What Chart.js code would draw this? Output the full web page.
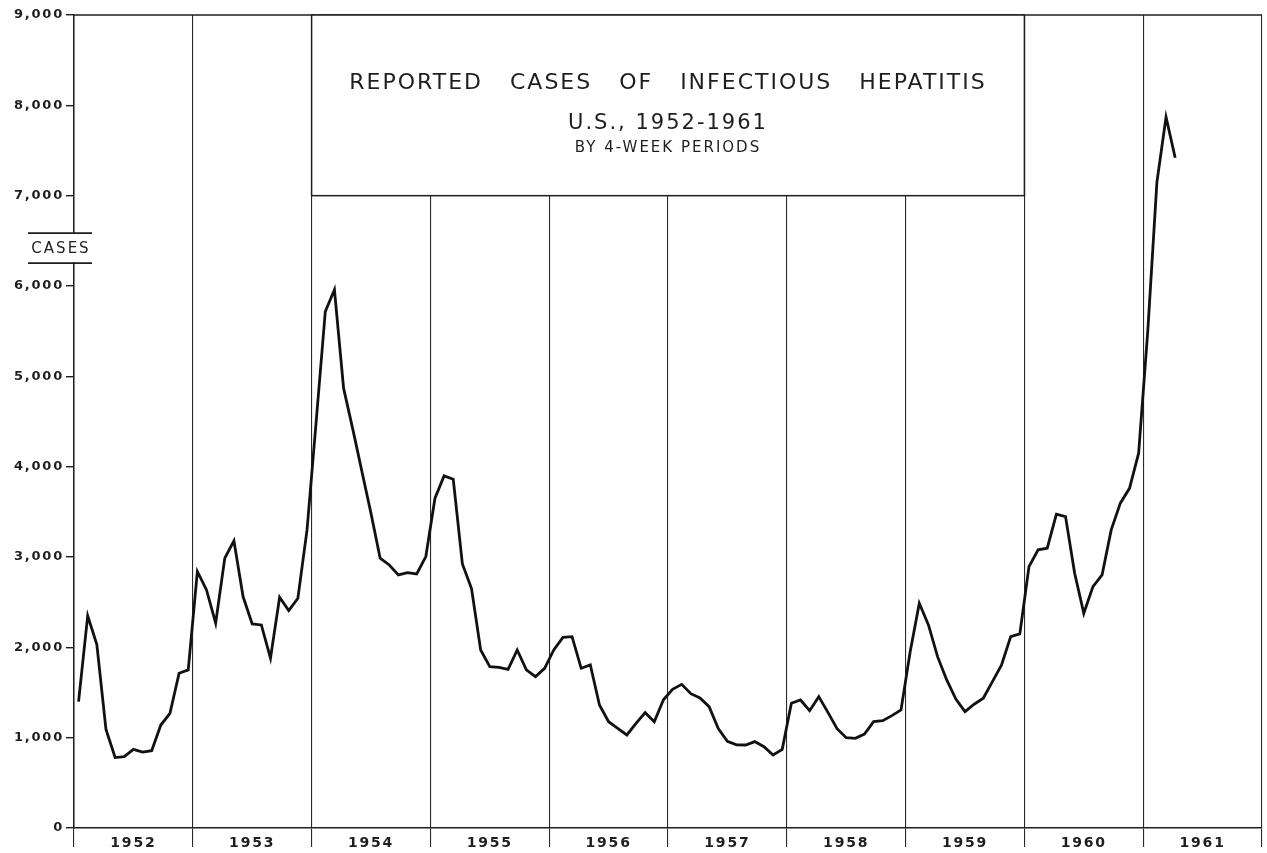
<!DOCTYPE html>
<html>
<head>
<meta charset="utf-8">
<title>Reported cases of infectious hepatitis, U.S., 1952-1961</title>
<script src="https://cdn.jsdelivr.net/npm/chart.js@4.4.1/dist/chart.umd.min.js"></script>
<style>
  html, body { margin: 0; padding: 0; background: #fff; }
  #wrap { position: relative; width: 1267px; height: 853px; }
</style>
</head>
<body>
<div id="wrap"><canvas id="chart"></canvas></div>
<script>
const YEARS = [1952, 1953, 1954, 1955, 1956, 1957, 1958, 1959, 1960, 1961];
const PERIODS_PER_YEAR = 13;

// reported cases, one value per 4-week period
const cases1952 = [1400, 2350, 2030, 1090, 780, 790, 870, 840, 856, 1140, 1270, 1713, 1750];
const cases1953 = [2840, 2635, 2267, 2987, 3180, 2562, 2260, 2248, 1880, 2555, 2407, 2543, 3300];
const cases1954 = [4500, 5718, 5958, 4869, 4418, 3950, 3483, 2987, 2912, 2802, 2827, 2813, 3005];
const cases1955 = [3651, 3898, 3861, 2924, 2650, 1971, 1786, 1779, 1757, 1971, 1750, 1676, 1768];
const cases1956 = [1971, 2110, 2118, 1768, 1805, 1362, 1177, 1104, 1030, 1159, 1277, 1177, 1420];
const cases1957 = [1536, 1590, 1487, 1440, 1343, 1100, 960, 920, 919, 956, 900, 808, 871];
const cases1958 = [1381, 1417, 1299, 1454, 1280, 1100, 1000, 993, 1040, 1177, 1188, 1244, 1307];
const cases1959 = [1950, 2488, 2248, 1897, 1639, 1428, 1288, 1370, 1436, 1620, 1805, 2118, 2148];
const cases1960 = [2894, 3079, 3097, 3474, 3447, 2820, 2377, 2672, 2802, 3300, 3596, 3760, 4149];
const cases1961 = [5500, 7150, 7870, 7420];

const casesByYear = [cases1952, cases1953, cases1954, cases1955, cases1956,
  cases1957, cases1958, cases1959, cases1960, cases1961];

const yTicks = [0, 1000, 2000, 3000, 4000, 5000, 6000, 7000, 8000, 9000];

const titleLines = [
  "REPORTED   CASES   OF   INFECTIOUS   HEPATITIS",
  "U.S., 1952-1961",
  "BY 4-WEEK PERIODS",
];
const yAxisTitle = "CASES";

const INK = "#1e1e1e";
const LINE_INK = "#111";

const points = YEARS.flatMap((year, i) =>
  casesByYear[i].map((value, period) => ({
    x: year + (period + 0.5) / PERIODS_PER_YEAR,
    y: value,
  }))
);

const firstYear = YEARS[0];
const lastYear = YEARS[YEARS.length - 1] + 1;

// year boundaries plus a label tick in the middle of each year
const xTicks = [];
for (let year = firstYear; year <= lastYear; year += 1) {
  xTicks.push({ value: year });
  if (year < lastYear) xTicks.push({ value: year + 0.5 });
}

const spacing = {
  id: "spacing",
  beforeLayout(chart) {
    chart.ctx.letterSpacing = "1.8px";
  },
  beforeDraw(chart) {
    chart.ctx.letterSpacing = "1.8px";
  },
};

const decor = {
  id: "decor",
  beforeDatasetsDraw(chart) {
    const { ctx, chartArea, scales } = chart;
    ctx.save();

    // top frame line
    ctx.strokeStyle = INK;
    ctx.lineWidth = 1.5;
    ctx.beginPath();
    ctx.moveTo(chartArea.left, chartArea.top);
    ctx.lineTo(chartArea.right, chartArea.top);
    ctx.stroke();

    // title box, from 1954 to 1960 and down to 7,000
    const left = scales.x.getPixelForValue(1954);
    const right = scales.x.getPixelForValue(1960);
    const top = scales.y.getPixelForValue(9000);
    const bottom = scales.y.getPixelForValue(7000);
    ctx.fillStyle = "#fff";
    ctx.fillRect(left, top, right - left, bottom - top);
    ctx.strokeRect(left, top, right - left, bottom - top);

    const cx = (left + right) / 2;
    ctx.fillStyle = INK;
    ctx.textAlign = "center";
    ctx.textBaseline = "middle";
    ctx.letterSpacing = "2px";
    ctx.font = "22px 'DejaVu Sans'";
    ctx.fillText(titleLines[0], cx, top + 68);
    ctx.font = "21px 'DejaVu Sans'";
    ctx.fillText(titleLines[1], cx, top + 109);
    ctx.font = "15px 'DejaVu Sans'";
    ctx.fillText(titleLines[2], cx, top + 133);
    ctx.restore();
  },
  afterDraw(chart) {
    const { ctx, scales } = chart;
    ctx.save();
    const y = scales.y.getPixelForValue(6420);
    ctx.fillStyle = "#fff";
    ctx.fillRect(28, y - 14, 64, 28);
    ctx.strokeStyle = INK;
    ctx.lineWidth = 1.8;
    ctx.beginPath();
    ctx.moveTo(28, y - 15);
    ctx.lineTo(92, y - 15);
    ctx.moveTo(28, y + 15);
    ctx.lineTo(92, y + 15);
    ctx.stroke();
    ctx.fillStyle = INK;
    ctx.textAlign = "center";
    ctx.textBaseline = "middle";
    ctx.letterSpacing = "2px";
    ctx.font = "15px 'DejaVu Sans'";
    ctx.fillText(yAxisTitle, 61, y + 1);
    ctx.restore();
  },
};

Chart.defaults.font.family = "'DejaVu Sans', sans-serif";
Chart.defaults.color = INK;

new Chart(document.getElementById("chart"), {
  type: "line",
  data: {
    datasets: [
      {
        label: "Reported cases",
        data: points,
        borderColor: LINE_INK,
        borderWidth: 2.8,
        pointRadius: 0,
        tension: 0,
        fill: false,
      },
    ],
  },
  options: {
    responsive: true,
    maintainAspectRatio: false,
    animation: false,
    layout: { padding: { left: 8, top: 15, right: 5, bottom: 0 } },
    plugins: {
      legend: { display: false },
      tooltip: { enabled: false },
    },
    scales: {
      x: {
        type: "linear",
        min: firstYear,
        max: lastYear,
        afterBuildTicks: (scale) => {
          scale.ticks = xTicks.map((tick) => ({ ...tick }));
        },
        afterFit: (scale) => {
          scale.height = 25;
        },
        grid: {
          color: (context) =>
            Number.isInteger(context.tick.value) ? "#2a2a2a" : "rgba(0,0,0,0)",
          lineWidth: 1.1,
          tickLength: 19,
        },
        border: { display: true, color: INK, width: 1.5 },
        ticks: {
          autoSkip: false,
          maxRotation: 0,
          padding: -12,
          font: { size: 14, weight: "bold" },
          callback: (value) =>
            Number.isInteger(value) ? "" : String(Math.floor(value)),
        },
      },
      y: {
        min: 0,
        max: 9000,
        afterBuildTicks: (scale) => {
          scale.ticks = yTicks.map((value) => ({ value }));
        },
        afterFit: (scale) => {
          scale.width = 66;
        },
        grid: {
          drawOnChartArea: false,
          drawTicks: true,
          tickLength: 8,
          color: INK,
          lineWidth: 1.4,
        },
        border: { display: true, color: INK, width: 1.5 },
        ticks: {
          padding: 2,
          font: { size: 13, weight: "bold" },
          callback: (value) => value.toLocaleString("en-US"),
        },
      },
    },
  },
  plugins: [spacing, decor],
});
</script>
</body>
</html>
